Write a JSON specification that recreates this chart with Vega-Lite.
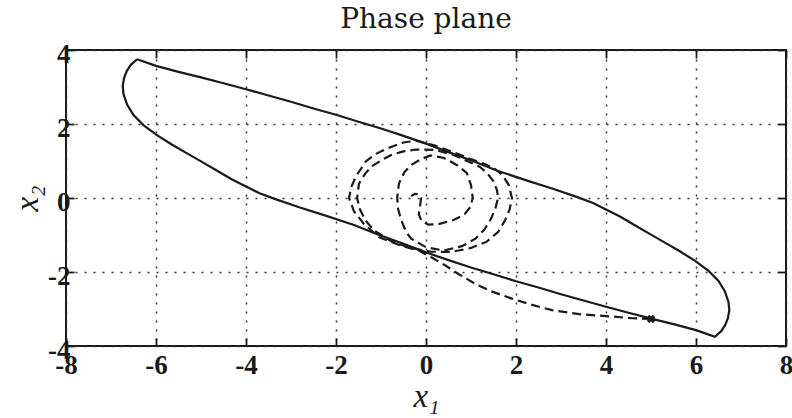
{
  "$schema": "https://vega.github.io/schema/vega-lite/v6.json",
  "width": 720,
  "height": 296,
  "autosize": "none",
  "padding": {"left": 66, "top": 50, "right": 6, "bottom": 72},
  "background": "white",
  "title": {"text": "Phase plane", "font": "DejaVu Serif", "fontSize": 28, "fontWeight": "normal", "color": "#1a1a1a", "offset": 6, "anchor": "middle"},
  "config": {
    "view": {"stroke": "#1a1a1a", "strokeWidth": 2},
    "axis": {
      "domain": false,
      "tickSize": -8,
      "tickColor": "#1a1a1a",
      "tickWidth": 1.8,
      "labelFont": "Liberation Serif",
      "labelFontSize": 27,
      "labelFontWeight": "bold",
      "labelColor": "#1a1a1a",
      "labelFlush": false,
      "labelOverlap": false,
      "labelExpr": "datum.value < 0 ? '-' + abs(datum.value) : '' + datum.value",
      "titleFont": "Liberation Serif",
      "titleFontStyle": "italic",
      "titleFontWeight": "normal",
      "titleFontSize": 33,
      "titleColor": "#1a1a1a",
      "gridColor": "#333333",
      "gridDash": [2, 7],
      "gridWidth": 1.5,
      "gridOpacity": 1
    }
  },
  "datasets": {
    "cycle": [
      {"i": 0, "x": -6.42, "y": 3.75}, {"i": 1, "x": -6.56, "y": 3.6}, {"i": 2, "x": -6.65, "y": 3.43}, {"i": 3, "x": -6.71, "y": 3.24},
      {"i": 4, "x": -6.74, "y": 3.03}, {"i": 5, "x": -6.72, "y": 2.8}, {"i": 6, "x": -6.64, "y": 2.52}, {"i": 7, "x": -6.5, "y": 2.24},
      {"i": 8, "x": -6.28, "y": 1.97}, {"i": 9, "x": -5.98, "y": 1.7}, {"i": 10, "x": -5.64, "y": 1.44}, {"i": 11, "x": -5.3, "y": 1.2},
      {"i": 12, "x": -5.0, "y": 0.99}, {"i": 13, "x": -4.66, "y": 0.75}, {"i": 14, "x": -4.31, "y": 0.5}, {"i": 15, "x": -4.0, "y": 0.31},
      {"i": 16, "x": -3.7, "y": 0.13}, {"i": 17, "x": -3.3, "y": -0.05}, {"i": 18, "x": -2.82, "y": -0.25}, {"i": 19, "x": -2.3, "y": -0.45},
      {"i": 20, "x": -1.6, "y": -0.73}, {"i": 21, "x": -1.04, "y": -1.0}, {"i": 22, "x": -0.5, "y": -1.24}, {"i": 23, "x": 0, "y": -1.47},
      {"i": 24, "x": 0.5, "y": -1.68}, {"i": 25, "x": 1.0, "y": -1.88}, {"i": 26, "x": 1.5, "y": -2.06}, {"i": 27, "x": 2.0, "y": -2.25},
      {"i": 28, "x": 2.5, "y": -2.42}, {"i": 29, "x": 3.0, "y": -2.6}, {"i": 30, "x": 3.5, "y": -2.77}, {"i": 31, "x": 4.0, "y": -2.94},
      {"i": 32, "x": 4.5, "y": -3.1}, {"i": 33, "x": 5.0, "y": -3.26}, {"i": 34, "x": 5.5, "y": -3.41}, {"i": 35, "x": 6.0, "y": -3.57},
      {"i": 36, "x": 6.42, "y": -3.75},
      {"i": 37, "x": 6.56, "y": -3.6}, {"i": 38, "x": 6.65, "y": -3.43}, {"i": 39, "x": 6.71, "y": -3.24},
      {"i": 40, "x": 6.74, "y": -3.03}, {"i": 41, "x": 6.72, "y": -2.8}, {"i": 42, "x": 6.64, "y": -2.52}, {"i": 43, "x": 6.5, "y": -2.24},
      {"i": 44, "x": 6.28, "y": -1.97}, {"i": 45, "x": 5.98, "y": -1.7}, {"i": 46, "x": 5.64, "y": -1.44}, {"i": 47, "x": 5.3, "y": -1.2},
      {"i": 48, "x": 5.0, "y": -0.99}, {"i": 49, "x": 4.66, "y": -0.75}, {"i": 50, "x": 4.31, "y": -0.5}, {"i": 51, "x": 4.0, "y": -0.31},
      {"i": 52, "x": 3.7, "y": -0.13}, {"i": 53, "x": 3.3, "y": 0.05}, {"i": 54, "x": 2.82, "y": 0.25}, {"i": 55, "x": 2.3, "y": 0.45},
      {"i": 56, "x": 1.6, "y": 0.73}, {"i": 57, "x": 1.04, "y": 1.0}, {"i": 58, "x": 0.5, "y": 1.24}, {"i": 59, "x": 0, "y": 1.47},
      {"i": 60, "x": -0.5, "y": 1.68}, {"i": 61, "x": -1.0, "y": 1.88}, {"i": 62, "x": -1.5, "y": 2.06}, {"i": 63, "x": -2.0, "y": 2.25},
      {"i": 64, "x": -2.5, "y": 2.42}, {"i": 65, "x": -3.0, "y": 2.6}, {"i": 66, "x": -3.5, "y": 2.77}, {"i": 67, "x": -4.0, "y": 2.94},
      {"i": 68, "x": -4.5, "y": 3.1}, {"i": 69, "x": -5.0, "y": 3.26}, {"i": 70, "x": -5.5, "y": 3.41}, {"i": 71, "x": -6.0, "y": 3.57},
      {"i": 72, "x": -6.42, "y": 3.75}
    ],
    "traj": [
      {"i": 0, "x": 5.0, "y": -3.27}, {"i": 1, "x": 4.58, "y": -3.25}, {"i": 2, "x": 4.0, "y": -3.19}, {"i": 3, "x": 3.4, "y": -3.14},
      {"i": 4, "x": 2.8, "y": -3.03}, {"i": 5, "x": 2.36, "y": -2.89}, {"i": 6, "x": 1.91, "y": -2.72}, {"i": 7, "x": 1.47, "y": -2.53},
      {"i": 8, "x": 1.11, "y": -2.33}, {"i": 9, "x": 0.73, "y": -2.06}, {"i": 10, "x": 0.44, "y": -1.83}, {"i": 11, "x": 0.13, "y": -1.61},
      {"i": 12, "x": -0.16, "y": -1.42}, {"i": 13, "x": -0.53, "y": -1.3}, {"i": 14, "x": -1.04, "y": -1.06}, {"i": 15, "x": -1.38, "y": -0.7},
      {"i": 16, "x": -1.6, "y": -0.36}, {"i": 17, "x": -1.71, "y": 0}, {"i": 18, "x": -1.66, "y": 0.3}, {"i": 19, "x": -1.55, "y": 0.6},
      {"i": 20, "x": -1.33, "y": 1.0}, {"i": 21, "x": -1.1, "y": 1.2}, {"i": 22, "x": -0.82, "y": 1.36}, {"i": 23, "x": -0.5, "y": 1.5},
      {"i": 24, "x": -0.22, "y": 1.55}, {"i": 25, "x": 0.2, "y": 1.42}, {"i": 26, "x": 0.6, "y": 1.24}, {"i": 27, "x": 1.0, "y": 1.05},
      {"i": 28, "x": 1.3, "y": 0.92}, {"i": 29, "x": 1.52, "y": 0.8}, {"i": 30, "x": 1.7, "y": 0.62}, {"i": 31, "x": 1.84, "y": 0.35},
      {"i": 32, "x": 1.91, "y": 0}, {"i": 33, "x": 1.86, "y": -0.3}, {"i": 34, "x": 1.75, "y": -0.62}, {"i": 35, "x": 1.6, "y": -0.92},
      {"i": 36, "x": 1.35, "y": -1.18}, {"i": 37, "x": 1.0, "y": -1.35}, {"i": 38, "x": 0.56, "y": -1.46}, {"i": 39, "x": 0.1, "y": -1.45},
      {"i": 40, "x": -0.35, "y": -1.35}, {"i": 41, "x": -0.8, "y": -1.15}, {"i": 42, "x": -1.15, "y": -0.88}, {"i": 43, "x": -1.35, "y": -0.6},
      {"i": 44, "x": -1.47, "y": -0.3}, {"i": 45, "x": -1.53, "y": 0}, {"i": 46, "x": -1.49, "y": 0.39}, {"i": 47, "x": -1.35, "y": 0.66},
      {"i": 48, "x": -1.2, "y": 0.86}, {"i": 49, "x": -0.98, "y": 1.03}, {"i": 50, "x": -0.76, "y": 1.17}, {"i": 51, "x": -0.5, "y": 1.26},
      {"i": 52, "x": -0.22, "y": 1.31}, {"i": 53, "x": 0.2, "y": 1.3}, {"i": 54, "x": 0.6, "y": 1.17}, {"i": 55, "x": 0.95, "y": 0.98},
      {"i": 56, "x": 1.2, "y": 0.84}, {"i": 57, "x": 1.36, "y": 0.67}, {"i": 58, "x": 1.5, "y": 0.45}, {"i": 59, "x": 1.58, "y": 0.2},
      {"i": 60, "x": 1.6, "y": 0}, {"i": 61, "x": 1.55, "y": -0.25}, {"i": 62, "x": 1.45, "y": -0.55}, {"i": 63, "x": 1.3, "y": -0.85},
      {"i": 64, "x": 1.1, "y": -1.1}, {"i": 65, "x": 0.8, "y": -1.3}, {"i": 66, "x": 0.4, "y": -1.42}, {"i": 67, "x": 0.0, "y": -1.33},
      {"i": 68, "x": -0.33, "y": -1.1}, {"i": 69, "x": -0.44, "y": -0.92}, {"i": 70, "x": -0.55, "y": -0.6}, {"i": 71, "x": -0.62, "y": -0.3},
      {"i": 72, "x": -0.64, "y": 0}, {"i": 73, "x": -0.6, "y": 0.4}, {"i": 74, "x": -0.48, "y": 0.7}, {"i": 75, "x": -0.33, "y": 0.89},
      {"i": 76, "x": -0.11, "y": 1.05}, {"i": 77, "x": 0.1, "y": 1.15}, {"i": 78, "x": 0.4, "y": 1.08}, {"i": 79, "x": 0.7, "y": 0.88},
      {"i": 80, "x": 0.91, "y": 0.67}, {"i": 81, "x": 1.0, "y": 0.35}, {"i": 82, "x": 1.04, "y": 0}, {"i": 83, "x": 0.98, "y": -0.25},
      {"i": 84, "x": 0.85, "y": -0.45}, {"i": 85, "x": 0.6, "y": -0.6}, {"i": 86, "x": 0.3, "y": -0.7}, {"i": 87, "x": 0.05, "y": -0.72},
      {"i": 88, "x": -0.1, "y": -0.62}, {"i": 89, "x": -0.16, "y": -0.44}, {"i": 90, "x": -0.13, "y": -0.2}, {"i": 91, "x": -0.11, "y": 0.0},
      {"i": 92, "x": -0.16, "y": 0.1}, {"i": 93, "x": -0.25, "y": 0.11}, {"i": 94, "x": -0.33, "y": 0.05}
    ],
    "end": [{"x": 5.0, "y": -3.27}]
  },
  "layer": [
    {
      "data": {"name": "cycle"},
      "mark": {"type": "line", "color": "#1a1a1a", "strokeWidth": 2.2},
      "encoding": {
        "x": {"field": "x", "type": "quantitative", "scale": {"domain": [-8, 8], "nice": false, "zero": false},
          "axis": {"orient": "bottom", "values": [-8, -6, -4, -2, 0, 2, 4, 6, 8], "grid": true, "labelPadding": 14, "title": "x₁", "titlePadding": 2}},
        "y": {"field": "y", "type": "quantitative", "scale": {"domain": [-4, 4], "nice": false, "zero": false},
          "axis": {"orient": "left", "values": [-4, -2, 0, 2, 4], "grid": true, "labelPadding": 4, "labelOffset": 4, "title": "x₂", "titlePadding": 3}},
        "order": {"field": "i", "type": "quantitative"}
      }
    },
    {
      "data": {"name": "traj"},
      "mark": {"type": "line", "color": "#1a1a1a", "strokeWidth": 2.2, "strokeDash": [9, 5]},
      "encoding": {
        "x": {"field": "x", "type": "quantitative",
          "axis": {"orient": "top", "values": [-8, -6, -4, -2, 0, 2, 4, 6, 8], "grid": false, "labels": false, "title": null}},
        "y": {"field": "y", "type": "quantitative",
          "axis": {"orient": "right", "values": [-4, -2, 0, 2, 4], "grid": false, "labels": false, "title": null}},
        "order": {"field": "i", "type": "quantitative"}
      }
    },
    {
      "data": {"name": "end"},
      "mark": {"type": "point", "shape": "cross", "angle": 45, "size": 70, "filled": true, "color": "#1a1a1a", "opacity": 1},
      "encoding": {
        "x": {"field": "x", "type": "quantitative", "axis": null},
        "y": {"field": "y", "type": "quantitative", "axis": null}
      }
    }
  ],
  "resolve": {"axis": {"x": "independent", "y": "independent"}}
}
